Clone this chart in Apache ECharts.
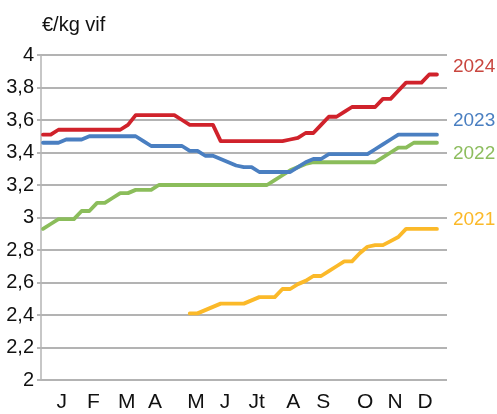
<!DOCTYPE html>
<html>
<head>
<meta charset="utf-8">
<script src="https://cdn.jsdelivr.net/npm/echarts@6/dist/echarts.min.js"></script>
<style>
html,body{margin:0;padding:0;background:#fff;}
#c{width:497px;height:414px;}
</style>
</head>
<body>
<div id="c"></div>
<script>
// ---- data (weekly prices, €/kg vif) ----
const weekNumbers = [1,2,3,4,5,6,7,8,9,10,11,12,13,14,15,16,17,18,19,20,21,22,23,24,25,26,27,28,29,30,31,32,33,34,35,36,37,38,39,40,41,42,43,44,45,46,47,48,49,50,51,52];
const price2024 = [3.51,3.51,3.54,3.54,3.54,3.54,3.54,3.54,3.54,3.54,3.54,3.57,3.63,3.63,3.63,3.63,3.63,3.63,3.60,3.57,3.57,3.57,3.57,3.47,3.47,3.47,3.47,3.47,3.47,3.47,3.47,3.47,3.48,3.49,3.52,3.52,3.57,3.62,3.62,3.65,3.68,3.68,3.68,3.68,3.73,3.73,3.78,3.83,3.83,3.83,3.88,3.88];
const price2023 = [3.46,3.46,3.46,3.48,3.48,3.48,3.50,3.50,3.50,3.50,3.50,3.50,3.50,3.47,3.44,3.44,3.44,3.44,3.44,3.41,3.41,3.38,3.38,3.36,3.34,3.32,3.31,3.31,3.28,3.28,3.28,3.28,3.28,3.31,3.34,3.36,3.36,3.39,3.39,3.39,3.39,3.39,3.39,3.42,3.45,3.48,3.51,3.51,3.51,3.51,3.51,3.51];
const price2022 = [2.93,2.96,2.99,2.99,2.99,3.04,3.04,3.09,3.09,3.12,3.15,3.15,3.17,3.17,3.17,3.20,3.20,3.20,3.20,3.20,3.20,3.20,3.20,3.20,3.20,3.20,3.20,3.20,3.20,3.20,3.23,3.26,3.29,3.31,3.33,3.34,3.34,3.34,3.34,3.34,3.34,3.34,3.34,3.34,3.37,3.40,3.43,3.43,3.46,3.46,3.46,3.46];
const price2021 = [null,null,null,null,null,null,null,null,null,null,null,null,null,null,null,null,null,null,null,2.41,2.41,2.43,2.45,2.47,2.47,2.47,2.47,2.49,2.51,2.51,2.51,2.56,2.56,2.59,2.61,2.64,2.64,2.67,2.70,2.73,2.73,2.78,2.82,2.83,2.83,2.855,2.88,2.93,2.93,2.93,2.93,2.93];
const seriesNames = ['2024','2023','2022','2021'];
const monthLabels = ['J','F','M','A','M','J','Jt','A','S','O','N','D'];
const monthWeekPos = [3.42,7.51,11.83,15.5,20.8,24.56,28.66,33.4,37.28,42.7,46.57,50.45];
const yTicks = [2,2.2,2.4,2.6,2.8,3,3.2,3.4,3.6,3.8,4];
const unitTitle = '€/kg vif';

// ---- styling ----
const colors = ['#d0222b','#4a7fc1','#8bbd5b','#fbb929'];
const labelColors = ['#c9463f','#4a7fc1','#8dbd5e','#fbb929'];
const labelOffsets = [[8,-8],[8,-14],[8,11],[8,-9]];
const sans = "'Liberation Sans',Arial,sans-serif";

const allSeries = [price2024, price2023, price2022, price2021];

const chart = echarts.init(document.getElementById('c'), null, {renderer:'canvas'});
chart.setOption({
  animation: false,
  backgroundColor: '#fff',
  title: {
    text: unitTitle, left: 37, top: 10,
    textStyle: {fontFamily: sans, fontSize: 20, fontWeight: 'normal', color: '#111'}
  },
  grid: {left: 41, right: 50, top: 55, bottom: 34, containLabel: false},
  xAxis: {
    type: 'value', min: 0.74, max: 53.3,
    axisLine: {show: false},
    axisTick: {show: false},
    splitLine: {show: false},
    axisLabel: {
      customValues: monthWeekPos,
      margin: 12,
      fontFamily: sans, fontSize: 21, color: '#111',
      formatter: function (v) {
        const i = monthWeekPos.indexOf(v);
        return i >= 0 ? monthLabels[i] : '';
      }
    }
  },
  yAxis: {
    type: 'value', min: yTicks[0], max: yTicks[yTicks.length-1], interval: 0.2,
    axisLine: {show: true, lineStyle: {color: '#b5b5b5', width: 1.5}},
    axisTick: {show: true, length: 4, lineStyle: {color: '#b5b5b5', width: 2}},
    splitLine: {show: true, lineStyle: {color: '#b3b3b3', width: 2}},
    axisLabel: {
      margin: 7, fontFamily: sans, fontSize: 20, color: '#111',
      formatter: function (v) { return String(Math.round(v*10)/10).replace('.', ','); }
    }
  },
  series: allSeries.map(function (arr, k) {
    return {
      name: seriesNames[k],
      type: 'line',
      symbol: 'none',
      connectNulls: false,
      data: arr.map(function (v, i) { return [weekNumbers[i], v]; }),
      lineStyle: {color: colors[k], width: 3.8, cap: 'round', join: 'round'},
      itemStyle: {color: colors[k]},
      z: 10 - k,
      endLabel: {
        show: true,
        formatter: seriesNames[k],
        offset: labelOffsets[k],
        fontFamily: sans, fontSize: 19, color: labelColors[k]
      }
    };
  })
});
</script>
</body>
</html>
